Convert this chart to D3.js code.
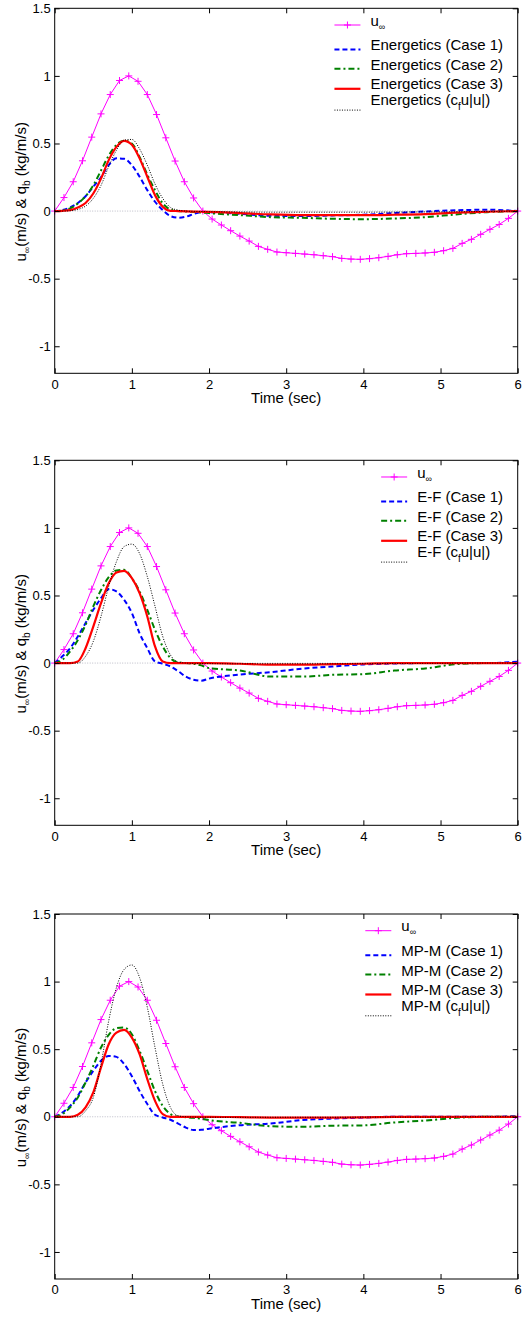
<!DOCTYPE html>
<html>
<head>
<meta charset="utf-8">
<script src="https://cdn.jsdelivr.net/npm/d3@7"></script>
<style>
  body { margin: 0; background: #fff; }
  svg { display: block; font-family: "Liberation Sans", Arial, Helvetica, sans-serif; }
</style>
</head>
<body>
<div id="chart"></div>
<script>
// free stream velocity, sampled with '+' markers
var uTime = [0, 0.12, 0.24, 0.36, 0.48, 0.60, 0.72, 0.84, 0.96, 1.08, 1.20, 1.32, 1.44, 1.56, 1.68, 1.80, 1.92,
  2.04, 2.16, 2.28, 2.40, 2.52, 2.64, 2.76, 2.88, 3.00, 3.12, 3.24, 3.36, 3.48, 3.60, 3.72, 3.84, 3.96,
  4.08, 4.20, 4.32, 4.44, 4.56, 4.68, 4.80, 4.92, 5.04, 5.16, 5.28, 5.40, 5.52, 5.64, 5.76, 5.88, 6.00]
var uInf = [0, 0.10, 0.217, 0.372, 0.547, 0.719, 0.862, 0.966, 1.0, 0.96, 0.862, 0.714, 0.542, 0.37, 0.217, 0.097, 0,
  -0.059, -0.103, -0.145, -0.185, -0.222, -0.261, -0.283, -0.303, -0.308, -0.313, -0.318, -0.323, -0.330, -0.337, -0.350, -0.355, -0.357,
  -0.352, -0.345, -0.335, -0.323, -0.315, -0.313, -0.310, -0.305, -0.293, -0.276, -0.239, -0.209, -0.172, -0.135, -0.099, -0.054, 0]

// transport rate samples
var qTime = [0, 0.1, 0.2, 0.3, 0.4, 0.5, 0.6, 0.7, 0.8, 0.9, 1.0, 1.1, 1.2, 1.3, 1.4, 1.5, 1.6, 1.7, 1.8, 1.9, 2.0,
  2.4, 2.8, 3.2, 3.6, 4.0, 4.4, 4.8, 5.2, 5.6, 6.0]

var energetics1 = [0, 0.007, 0.027, 0.06, 0.11, 0.18, 0.25, 0.34, 0.39, 0.387, 0.34, 0.254, 0.155, 0.069, 0.007, -0.037, -0.049, -0.042, -0.022, -0.007, -0.008,
  -0.02, -0.035, -0.037, -0.032, -0.027, -0.015, -0.003, 0.006, 0.01, 0]
var energetics2 = [0, 0.005, 0.02, 0.057, 0.11, 0.19, 0.30, 0.41, 0.49, 0.52, 0.50, 0.40, 0.27, 0.155, 0.057, 0.012, 0, -0.003, -0.006, -0.01, -0.015,
  -0.03, -0.045, -0.05, -0.057, -0.06, -0.055, -0.045, -0.025, -0.008, 0]
var energetics3 = [0, 0.002, 0.007, 0.027, 0.06, 0.13, 0.24, 0.377, 0.475, 0.52, 0.49, 0.39, 0.254, 0.118, 0.032, 0.002, 0, -0.002, -0.004, -0.005, -0.006,
  -0.015, -0.025, -0.03, -0.03, -0.03, -0.027, -0.022, -0.012, -0.005, 0]
var energeticsCf = [0, 0, 0.003, 0.012, 0.037, 0.094, 0.19, 0.33, 0.45, 0.525, 0.53, 0.46, 0.34, 0.20, 0.094, 0.027, 0.007, 0, -0.002, -0.003, -0.005,
  -0.006, -0.008, -0.008, -0.008, -0.008, -0.007, -0.006, -0.005, -0.003, 0]

var ef1 = [0, 0.05, 0.11, 0.197, 0.296, 0.394, 0.48, 0.547, 0.53, 0.468, 0.37, 0.22, 0.11, 0.012, -0.005, -0.025, -0.06, -0.1, -0.123, -0.13, -0.115,
  -0.085, -0.067, -0.042, -0.025, -0.01, -0.003, 0, 0, 0, 0.01]
var ef2 = [0, 0.025, 0.086, 0.17, 0.283, 0.42, 0.54, 0.635, 0.685, 0.69, 0.628, 0.53, 0.394, 0.246, 0.123, 0.037, 0.005, 0, -0.005, -0.017, -0.037,
  -0.055, -0.1, -0.1, -0.087, -0.082, -0.055, -0.04, -0.008, 0, 0]
var ef3 = [0, 0, 0, 0.012, 0.11, 0.27, 0.443, 0.59, 0.67, 0.682, 0.628, 0.517, 0.345, 0.123, 0.012, 0, 0, 0, 0, 0, 0,
  -0.005, -0.012, -0.012, -0.008, -0.005, 0, 0, 0, 0, 0]
var efCf = [0, 0, 0, 0, 0.05, 0.16, 0.345, 0.567, 0.75, 0.862, 0.88, 0.81, 0.64, 0.42, 0.197, 0.06, 0.007, 0, -0.002, -0.003, -0.004,
  -0.005, -0.005, -0.005, -0.005, -0.004, -0.003, -0.002, -0.001, 0, 0]

var mpm1 = [0, 0.032, 0.08, 0.155, 0.254, 0.34, 0.414, 0.45, 0.443, 0.39, 0.30, 0.19, 0.094, 0.015, -0.005, -0.022, -0.05, -0.08, -0.098, -0.096, -0.088,
  -0.062, -0.05, -0.025, -0.013, -0.006, 0, 0, 0, 0, 0.005]
var mpm2 = [0, 0.02, 0.07, 0.143, 0.254, 0.377, 0.512, 0.606, 0.655, 0.66, 0.61, 0.488, 0.34, 0.19, 0.08, 0.02, 0, -0.003, -0.008, -0.015, -0.025,
  -0.045, -0.07, -0.074, -0.066, -0.064, -0.042, -0.028, -0.008, 0, 0]
var mpm3 = [0, 0, 0, 0.015, 0.07, 0.18, 0.365, 0.537, 0.623, 0.643, 0.586, 0.463, 0.278, 0.118, 0.02, 0, 0, 0, 0, 0, 0,
  -0.003, -0.006, -0.007, -0.006, -0.004, 0, 0, 0, 0, 0]
var mpmCf = [0, 0, 0, 0, 0.044, 0.143, 0.39, 0.71, 0.956, 1.09, 1.123, 1.03, 0.81, 0.512, 0.241, 0.069, 0.007, 0, -0.002, -0.003, -0.003,
  -0.004, -0.004, -0.004, -0.004, -0.003, -0.002, -0.002, -0.001, 0, 0]

var xTicks = [0, 1, 2, 3, 4, 5, 6]
var yTicks = [-1, -0.5, 0, 0.5, 1, 1.5]

var models = ["Energetics", "E-F", "MP-M"]
var modelSeries = [
  [energetics1, energetics2, energetics3, energeticsCf],
  [ef1, ef2, ef3, efCf],
  [mpm1, mpm2, mpm3, mpmCf]
]

const width = 522, height = 1318
const left = 54.7, plotW = 463, plotH = 365
const tops = [8.3, 460.3, 914]

const styles = [
  { color: "#0000ff", width: 2, dash: "5,3" },
  { color: "#008000", width: 2, dash: "6,3,2,3" },
  { color: "#ff0000", width: 2.2, dash: null },
  { color: "#000000", width: 1, dash: "1,1.5" }
]

const svg = d3.select("#chart").append("svg")
  .attr("width", width)
  .attr("height", height)

function plusPath(cx, cy, s) {
  return `M${cx - s},${cy}H${cx + s}M${cx},${cy - s}V${cy + s}`
}

function drawPanel(idx) {
  const name = models[idx]
  const series = modelSeries[idx]
  const g = svg.append("g").attr("transform", `translate(${left}, ${tops[idx]})`)

  const x = d3.scaleLinear().domain([0, 6]).range([0, plotW])
  const y = d3.scaleLinear().domain([-1.2, 1.5]).range([plotH, 0])

  // zero reference
  g.append("line")
    .attr("x1", x(0)).attr("x2", x(6))
    .attr("y1", y(0)).attr("y2", y(0))
    .attr("stroke", "#a0a0b0").attr("stroke-width", 0.7)
    .attr("stroke-dasharray", "1,1.5")

  // u infinity
  const uData = uTime.map((t, i) => [t, uInf[i]])
  g.append("path")
    .datum(uData)
    .attr("fill", "none")
    .attr("stroke", "#ff00ff")
    .attr("stroke-width", 1)
    .attr("d", d3.line().x(d => x(d[0])).y(d => y(d[1])))
  g.append("g").selectAll("path")
    .data(uData)
    .enter().append("path")
      .attr("d", d => plusPath(x(d[0]), y(d[1]), 3.5))
      .attr("stroke", "#ff00ff")
      .attr("stroke-width", 1)

  const line = d3.line().x(d => x(d[0])).y(d => y(d[1])).curve(d3.curveMonotoneX)
  series.forEach((vals, k) => {
    const st = styles[k]
    g.append("path")
      .datum(qTime.map((t, i) => [t, vals[i]]))
      .attr("fill", "none")
      .attr("stroke", st.color)
      .attr("stroke-width", st.width)
      .attr("stroke-dasharray", st.dash)
      .attr("d", line)
  })

  // axes, ticks inward on all four sides
  const fmt = d => String(d)
  const bottom = g.append("g")
    .attr("transform", `translate(0, ${plotH})`)
    .call(d3.axisBottom(x).tickValues(xTicks).tickSizeInner(-5).tickSizeOuter(0).tickPadding(6).tickFormat(fmt))
  const leftAx = g.append("g")
    .call(d3.axisLeft(y).tickValues(yTicks).tickSizeInner(-5).tickSizeOuter(0).tickPadding(4).tickFormat(fmt))
  g.append("g")
    .call(d3.axisTop(x).tickValues(xTicks).tickSizeInner(-5).tickSizeOuter(0).tickFormat(""))
  g.append("g")
    .attr("transform", `translate(${plotW}, 0)`)
    .call(d3.axisRight(y).tickValues(yTicks).tickSizeInner(-5).tickSizeOuter(0).tickFormat(""))
  g.selectAll(".domain").remove()
  g.selectAll(".tick line").attr("stroke", "#000")
  g.selectAll(".tick text").attr("fill", "#000")
  bottom.attr("font-family", null).attr("font-size", 13)
  leftAx.attr("font-family", null).attr("font-size", 13)

  g.append("rect")
    .attr("width", plotW).attr("height", plotH)
    .attr("fill", "none").attr("stroke", "#000").attr("stroke-width", 1)

  // axis labels
  g.append("text")
    .attr("x", plotW / 2).attr("y", plotH + 30)
    .attr("text-anchor", "middle")
    .attr("font-size", 15)
    .text("Time (sec)")

  const yl = g.append("text")
    .attr("transform", `translate(${25.5 - left}, ${plotH / 2 + 1}) rotate(-90)`)
    .attr("text-anchor", "middle")
    .attr("font-size", 15)
  yl.append("tspan").text("u")
  yl.append("tspan").attr("font-size", 9).attr("dy", 4).text("∞")
  yl.append("tspan").attr("dy", -4).text("(m/s) & q")
  yl.append("tspan").attr("font-size", 10).attr("dy", 4).text("b")
  yl.append("tspan").attr("dy", -4).text(" (kg/m/s)")

  // legend
  const lg = g.append("g")
  const rows = [
    { lineY: 16.7, textY: 17.4 },
    { lineY: 41.2, textY: 42 },
    { lineY: 60.5, textY: 61.7 },
    { lineY: 80.5, textY: 81 },
    { lineY: 101.8, textY: 97 }
  ]
  const legStyles = [{ color: "#ff00ff", width: 1, dash: null }].concat(styles)
  rows.forEach((r, k) => {
    const st = legStyles[k]
    lg.append("line")
      .attr("x1", -36).attr("x2", -10)
      .attr("y1", r.lineY).attr("y2", r.lineY)
      .attr("stroke", st.color)
      .attr("stroke-width", st.width)
      .attr("stroke-dasharray", st.dash)
    if (k == 0) {
      lg.append("path").attr("d", plusPath(-23, r.lineY, 3.5)).attr("stroke", "#ff00ff")
    }
    const t = lg.append("text").attr("y", r.textY).attr("font-size", 15).attr("class", "leg")
    if (k == 0) {
      t.append("tspan").text("u")
      t.append("tspan").attr("font-size", 9).attr("dy", 4).text("∞")
    } else if (k < 4) {
      t.text(`${name} (Case ${k})`)
    } else {
      t.append("tspan").text(`${name} (c`)
      t.append("tspan").attr("font-size", 10).attr("dy", 5).text("f")
      t.append("tspan").attr("dy", -5).text("u|u|)")
    }
  })
  let maxW = 0
  lg.selectAll("text.leg").each(function () { maxW = Math.max(maxW, this.getBBox().width) })
  lg.attr("transform", `translate(${503 - left - maxW}, 0)`)
}

[0, 1, 2].forEach(drawPanel)
</script>
</body>
</html>
